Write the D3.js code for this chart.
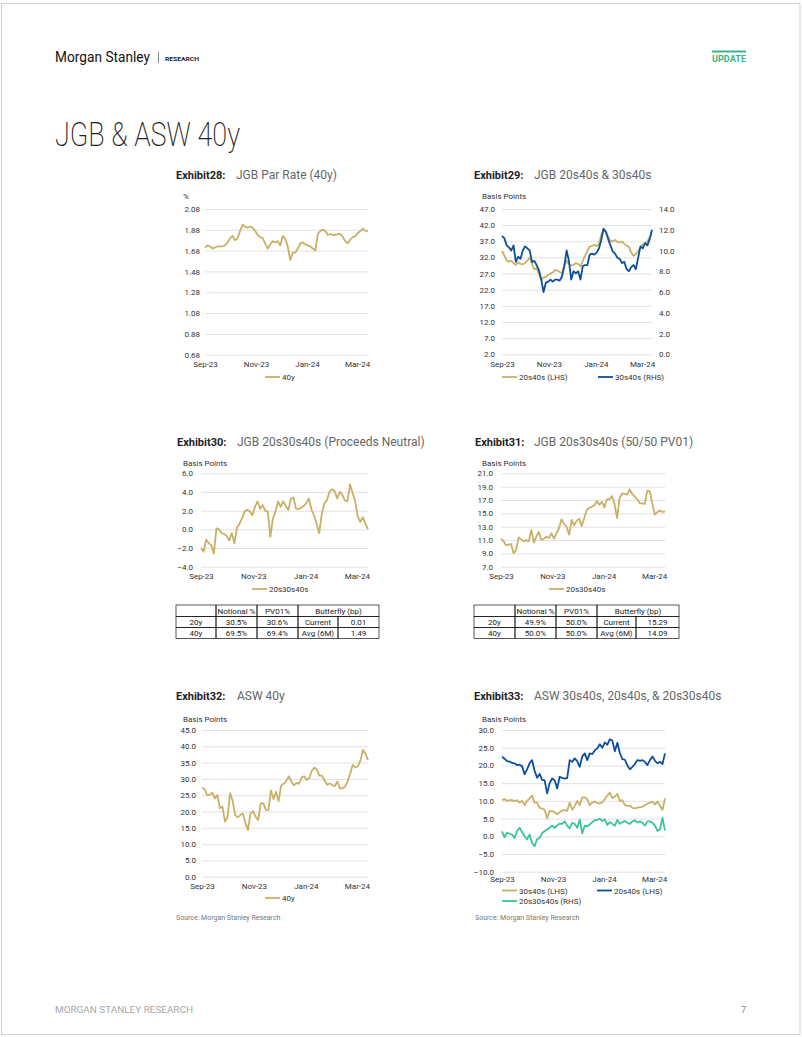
<!DOCTYPE html>
<html><head><meta charset="utf-8">
<script src="https://cdn.jsdelivr.net/npm/d3@7"></script>
<style>
html,body{margin:0;padding:0;background:#fff;}
svg{display:block;}
text{font-family:Roboto,"Noto Sans",Arial,sans-serif;}
</style></head>
<body>
<svg id="page" width="802" height="1037"></svg>
<script>
// ---------- DATA ----------
const startDate = "2023-09-01";
const stepDays = 3;
const xTickDates = ["2023-09-01","2023-11-01","2024-01-01","2024-03-01"];
const xTickLabels = ["Sep-23","Nov-23","Jan-24","Mar-24"];

const par40y = [1.71,1.73,1.72,1.70,1.71,1.72,1.72,1.72,1.73,1.76,1.80,1.82,1.78,1.80,1.87,1.93,1.91,1.90,1.91,1.90,1.87,1.83,1.81,1.80,1.75,1.70,1.74,1.77,1.76,1.77,1.73,1.82,1.80,1.72,1.59,1.66,1.66,1.70,1.75,1.76,1.74,1.73,1.72,1.70,1.68,1.84,1.87,1.88,1.87,1.83,1.84,1.83,1.83,1.84,1.84,1.81,1.77,1.75,1.79,1.81,1.82,1.85,1.87,1.89,1.87,1.87];

const jgb20s40s = [34.0,32.6,31.0,30.7,31.0,30.2,29.7,30.5,30.0,29.9,30.3,31.0,32.0,30.0,28.3,28.6,26.8,25.0,25.8,26.0,26.6,27.0,27.4,28.1,27.9,27.5,27.2,29.5,31.0,30.0,29.5,29.7,30.2,30.0,29.2,31.0,32.5,34.0,35.3,35.6,35.9,35.5,36.0,39.0,40.5,40.0,38.4,37.2,36.9,37.4,36.8,36.7,36.9,36.2,35.7,35.3,33.5,32.5,33.0,34.0,35.0,36.0,36.5,37.0,38.2,39.5];
const jgb30s40s = [11.4,11.2,10.5,10.3,10.0,10.5,8.9,9.4,9.2,10.0,10.4,10.2,10.0,8.9,9.0,8.6,8.1,7.2,6.0,6.9,7.0,7.2,7.0,7.2,7.2,7.1,7.5,8.5,10.0,9.0,7.2,8.0,7.8,8.0,7.2,8.5,8.6,8.6,9.6,9.7,9.6,9.8,10.2,11.0,12.1,11.8,11.1,10.5,9.9,9.7,9.3,9.2,8.8,8.9,8.2,8.0,8.4,8.6,8.2,9.3,10.4,10.2,10.7,10.5,11.1,12.0];

const fly30 = [-2.0,-2.4,-1.1,-1.5,-1.7,-2.6,0.1,0.0,-0.4,-0.5,-0.7,-1.2,-0.4,-1.5,0.2,0.6,1.2,1.9,2.1,1.9,1.5,2.4,3.0,2.2,2.6,2.0,1.9,-0.8,1.2,1.9,3.0,2.4,3.0,2.5,2.1,3.3,3.4,2.2,2.2,2.3,2.5,2.8,3.3,2.1,1.5,0.6,-0.4,1.6,2.8,3.1,4.0,4.3,4.1,3.3,4.0,3.7,3.1,3.0,4.8,3.9,3.0,1.4,0.8,1.3,0.6,0.01];

const fly31 = [11.2,10.8,10.2,10.3,10.4,9.0,9.5,11.4,11.1,10.8,11.0,10.8,12.5,10.6,11.5,12.2,11.0,11.2,11.5,11.3,12.0,11.2,12.0,12.8,14.1,13.4,13.0,11.8,14.0,13.2,13.9,14.2,13.1,14.3,15.5,15.8,16.0,16.2,16.8,16.3,16.7,15.9,17.1,17.1,17.6,16.4,14.3,17.3,18.0,17.9,17.8,18.6,17.9,17.5,17.1,16.5,16.5,16.4,18.4,18.3,16.4,14.8,15.2,15.4,15.2,15.29];

const asw40y = [27.3,26.9,25.0,25.1,25.8,24.0,25.1,21.0,21.5,16.9,18.4,25.6,23.3,18.9,18.2,18.9,19.4,16.5,14.3,19.4,20.1,18.4,17.4,22.5,22.5,20.5,20.5,26.5,23.8,26.0,23.2,28.0,28.5,29.4,30.8,29.2,28.0,28.8,28.5,30.5,30.8,29.7,30.2,32.5,33.5,32.8,31.0,31.0,29.5,28.2,28.6,28.1,27.8,29.2,27.1,27.1,27.6,29.2,31.5,34.3,33.5,33.8,35.5,38.9,37.8,35.8];

const asw30s40s = [10.2,10.5,10.0,10.2,10.2,9.9,10.2,9.5,10.0,8.8,10.0,10.7,11.5,9.5,9.5,8.0,7.8,7.5,5.1,7.2,7.0,6.8,6.2,6.8,7.3,7.4,7.2,9.5,7.5,8.5,10.0,8.8,11.0,11.0,10.5,8.8,9.5,9.8,9.3,9.3,9.6,10.5,11.5,12.3,10.8,11.2,12.0,10.0,10.2,8.8,8.6,8.6,8.0,7.9,8.1,8.2,8.3,8.8,9.2,9.5,9.8,9.0,9.8,8.6,7.4,10.7];
const asw20s40s = [22.5,21.9,21.2,21.1,20.7,20.6,20.1,20.2,19.8,17.5,18.9,20.6,21.5,18.5,16.5,17.6,15.9,15.8,12.1,15.0,16.3,15.8,13.5,16.8,16.5,16.3,16.5,21.5,21.0,22.0,21.2,19.6,22.5,23.4,21.5,23.4,23.2,24.2,24.8,26.0,25.0,26.5,25.8,27.4,27.0,24.0,26.4,23.5,21.8,21.6,20.0,18.9,19.6,20.4,21.5,21.3,21.5,21.0,20.1,21.5,22.5,21.3,20.6,21.0,20.4,23.4];
const asw20s30s40s = [1.4,-0.3,1.0,0.7,0.5,-0.5,1.4,2.4,1.2,0.0,-0.9,0.5,-1.9,-2.8,-0.8,-0.5,0.9,1.4,1.9,2.4,3.0,2.4,3.0,3.6,3.5,4.2,3.0,2.2,3.8,3.5,2.4,4.7,0.8,3.0,2.8,3.3,4.0,4.5,4.6,5.0,4.3,4.8,3.2,4.0,3.5,3.0,4.6,3.5,4.0,4.3,3.8,3.5,4.2,4.5,3.9,4.2,3.8,3.0,4.2,4.2,3.8,3.0,1.5,2.0,5.2,1.6];

const ticks28 = [0.68,0.88,1.08,1.28,1.48,1.68,1.88,2.08];
const ticks29L = [2,7,12,17,22,27,32,37,42,47];
const ticks29R = [0,2,4,6,8,10,12,14];
const ticks30 = [-4,-2,0,2,4,6];
const ticks31 = [7,9,11,13,15,17,19,21];
const ticks32 = [0,5,10,15,20,25,30,35,40,45];
const ticks33 = [-10,-5,0,5,10,15,20,25,30];

const table30 = [["","Notional %","PV01%","Butterfly (bp)",""],["20y","30.5%","30.6%","Current","0.01"],["40y","69.5%","69.4%","Avg (6M)","1.49"]];
const table31 = [["","Notional %","PV01%","Butterfly (bp)",""],["20y","49.9%","50.0%","Current","15.29"],["40y","50.0%","50.0%","Avg (6M)","14.09"]];

// ---------- STYLE ----------
const GOLD = "#c9b066", BLUE = "#0d4f9e", TEAL = "#3cc39a", GRID = "#d9d9d9", TXT = "#333";

const svg = d3.select("#page");
svg.append("rect").attr("x",1.5).attr("y",3.5).attr("width",798.5).attr("height",1031).attr("fill","#fff").attr("stroke","#cfcfcf").attr("stroke-width",1);

// Header
svg.append("text").attr("x",55).attr("y",62).attr("font-size",15).attr("fill","#111").attr("textLength",95).attr("lengthAdjust","spacingAndGlyphs").text("Morgan Stanley");
svg.append("line").attr("x1",158.5).attr("x2",158.5).attr("y1",52).attr("y2",63).attr("stroke","#666").attr("stroke-width",0.8);
svg.append("text").attr("x",165).attr("y",61).attr("font-size",6).attr("font-weight",700).attr("fill","#222").attr("textLength",34).attr("lengthAdjust","spacingAndGlyphs").text("RESEARCH");
svg.append("rect").attr("x",712).attr("y",50.5).attr("width",34).attr("height",2).attr("fill","#3fb489");
svg.append("text").attr("x",712).attr("y",62).attr("font-size",9).attr("font-weight",700).attr("fill","#3fb489").attr("textLength",34).attr("lengthAdjust","spacingAndGlyphs").text("UPDATE");
svg.append("text").attr("x",55).attr("y",146).attr("font-size",33).attr("font-weight",200).attr("fill","#222").attr("textLength",185).attr("lengthAdjust","spacingAndGlyphs").text("JGB & ASW 40y");

// Footer
svg.append("text").attr("x",55).attr("y",1013).attr("font-size",9).attr("fill","#a8a8a8").attr("textLength",138).attr("lengthAdjust","spacingAndGlyphs").text("MORGAN STANLEY RESEARCH");
svg.append("text").attr("x",746).attr("y",1013).attr("font-size",9).attr("fill","#888").attr("text-anchor","end").text("7");

const parse = d3.timeParse("%Y-%m-%d");
const d0 = parse(startDate);
function datesFor(n){ return d3.range(n).map(i => d3.timeDay.offset(d0, i*stepDays)); }

function titleBlock(x, y, num, sub, subX){
  svg.append("text").attr("x",x).attr("y",y).attr("font-size",11).attr("font-weight",700).attr("fill","#222").text(num);
  svg.append("text").attr("x",subX).attr("y",y).attr("font-size",12).attr("fill","#666").text(sub);
}

function chart(cfg){
  const g = svg.append("g");
  const n = cfg.series[0].values.length;
  const dates = datesFor(n);
  const x = d3.scaleTime().domain([dates[0], dates[n-1]]).range([cfg.x0, cfg.x1]);
  const y = d3.scaleLinear().domain(cfg.domain).range([cfg.yb, cfg.yt]);
  const ax = g.append("g").attr("transform",`translate(${cfg.x0},0)`)
    .call(d3.axisLeft(y).tickValues(cfg.ticks).tickFormat(d3.format(cfg.fmt)).tickSize(-(cfg.x1-cfg.x0)).tickPadding(cfg.pad||6));
  ax.select(".domain").remove();
  ax.selectAll(".tick line").attr("stroke",GRID).attr("stroke-width",0.8);
  ax.selectAll(".tick text").attr("fill",TXT).attr("font-size",8).attr("font-family","Roboto,Arial,sans-serif");
  let yR = null;
  if (cfg.rDomain){
    yR = d3.scaleLinear().domain(cfg.rDomain).range([cfg.yb, cfg.yt]);
    const ar = g.append("g").attr("transform",`translate(${cfg.x1},0)`)
      .call(d3.axisRight(yR).tickValues(cfg.rTicks).tickFormat(d3.format(cfg.fmt)).tickSize(0).tickPadding(7));
    ar.select(".domain").remove();
    ar.selectAll(".tick text").attr("fill",TXT).attr("font-size",8).attr("font-family","Roboto,Arial,sans-serif");
  }
  const axb = g.append("g").attr("transform",`translate(0,${cfg.yb})`)
    .call(d3.axisBottom(x).tickValues(xTickDates.map(parse)).tickFormat((d,i)=>xTickLabels[i]).tickSize(0).tickPadding(cfg.xpad||7));
  axb.select(".domain").remove();
  axb.selectAll(".tick text").attr("fill",TXT).attr("font-size",8).attr("font-family","Roboto,Arial,sans-serif");
  g.append("text").attr("x",cfg.unitX).attr("y",cfg.unitY).attr("font-size",8).attr("fill",TXT).text(cfg.unit);
  cfg.series.forEach(s => {
    const sc = s.right ? yR : y;
    const line = d3.line().x((d,i)=>x(dates[i])).y(d=>sc(d));
    g.append("path").datum(s.values).attr("d",line).attr("fill","none").attr("stroke",s.color).attr("stroke-width",1.8).attr("stroke-linejoin","round");
  });
  cfg.legend.forEach(l => {
    g.append("line").attr("x1",l.x).attr("x2",l.x+15).attr("y1",l.y).attr("y2",l.y).attr("stroke",l.color).attr("stroke-width",1.8);
    g.append("text").attr("x",l.x+17).attr("y",l.y+3).attr("font-size",8).attr("fill",TXT).text(l.text);
  });
}

function table(rows, xs, ys){
  const g = svg.append("g");
  for (let r=0;r<rows.length;r++){
    for (let c=0;c<xs.length-1;c++){
      if (r===0 && c===4) continue;
      const w = (r===0 && c===3) ? xs[5]-xs[3] : xs[c+1]-xs[c];
      g.append("rect").attr("x",xs[c]).attr("y",ys[r]).attr("width",w).attr("height",ys[r+1]-ys[r])
        .attr("fill","none").attr("stroke","#111").attr("stroke-width",0.7);
      const t = rows[r][c];
      if (t) g.append("text").attr("x",xs[c]+w/2).attr("y",(ys[r]+ys[r+1])/2+3).attr("text-anchor","middle")
        .attr("font-size",8).attr("fill","#222").attr("font-family","Arial,'Liberation Sans',sans-serif").text(t);
    }
  }
}

// Exhibit 28
titleBlock(176,179,"Exhibit28:","JGB Par Rate (40y)",236);
chart({x0:205,x1:368,yb:354.7,yt:209,domain:[0.68,2.08],ticks:ticks28,fmt:".2f",pad:5,
  unit:"%",unitX:183,unitY:199,
  series:[{values:par40y,color:GOLD}],
  legend:[{x:265,y:377,color:GOLD,text:"40y"}]});

// Exhibit 29
titleBlock(474,179,"Exhibit29:","JGB 20s40s & 30s40s",534);
chart({x0:502,x1:652,yb:354.3,yt:209,domain:[2,47],ticks:ticks29L,fmt:".1f",pad:7,
  rDomain:[0,14],rTicks:ticks29R,
  unit:"Basis Points",unitX:482,unitY:199,
  series:[{values:jgb20s40s,color:GOLD},{values:jgb30s40s,color:BLUE,right:true}],
  legend:[{x:502,y:377,color:GOLD,text:"20s40s (LHS)"},{x:598,y:377,color:BLUE,text:"30s40s (RHS)"}]});

// Exhibit 30
titleBlock(177,446,"Exhibit30:","JGB 20s30s40s (Proceeds Neutral)",237);
chart({x0:201,x1:368,yb:566.7,yt:473.3,domain:[-4,6],ticks:ticks30,fmt:".1f",pad:8,
  unit:"Basis Points",unitX:183,unitY:466,
  series:[{values:fly30,color:GOLD}],
  legend:[{x:252,y:589,color:GOLD,text:"20s30s40s"}]});
table(table30,[176,216,257,298,338,379],[605,616.5,627.5,638.5]);

// Exhibit 31
titleBlock(475,446,"Exhibit31:","JGB 20s30s40s (50/50 PV01)",534);
chart({x0:501,x1:665,yb:566.7,yt:473.3,domain:[7,21],ticks:ticks31,fmt:".1f",pad:8,
  unit:"Basis Points",unitX:482,unitY:466,
  series:[{values:fly31,color:GOLD}],
  legend:[{x:549,y:589,color:GOLD,text:"20s30s40s"}]});
table(table31,[474,515,556,597,636,679],[605,616.5,627.5,638.5]);

// Exhibit 32
titleBlock(176,700,"Exhibit32:","ASW 40y",237);
chart({x0:202,x1:368,yb:876.7,yt:730,domain:[0,45],ticks:ticks32,fmt:".1f",pad:6,
  unit:"Basis Points",unitX:183,unitY:721.5,
  series:[{values:asw40y,color:GOLD}],
  legend:[{x:265,y:898,color:GOLD,text:"40y"}]});
svg.append("text").attr("x",176).attr("y",920).attr("font-size",7).attr("fill","#777").text("Source: Morgan Stanley Research");

// Exhibit 33
titleBlock(474,700,"Exhibit33:","ASW 30s40s, 20s40s, & 20s30s40s",534);
chart({x0:502,x1:665,yb:871.7,yt:730,domain:[-10,30],ticks:ticks33,fmt:".1f",pad:8,xpad:5,
  unit:"Basis Points",unitX:482,unitY:721.5,
  series:[{values:asw30s40s,color:GOLD},{values:asw20s40s,color:BLUE},{values:asw20s30s40s,color:TEAL}],
  legend:[{x:502,y:890.5,color:GOLD,text:"30s40s (LHS)"},{x:597,y:890.5,color:BLUE,text:"20s40s (LHS)"},{x:502,y:901,color:TEAL,text:"20s30s40s (RHS)"}]});
svg.append("text").attr("x",475).attr("y",920).attr("font-size",7).attr("fill","#777").text("Source: Morgan Stanley Research");
</script>
</body></html>
